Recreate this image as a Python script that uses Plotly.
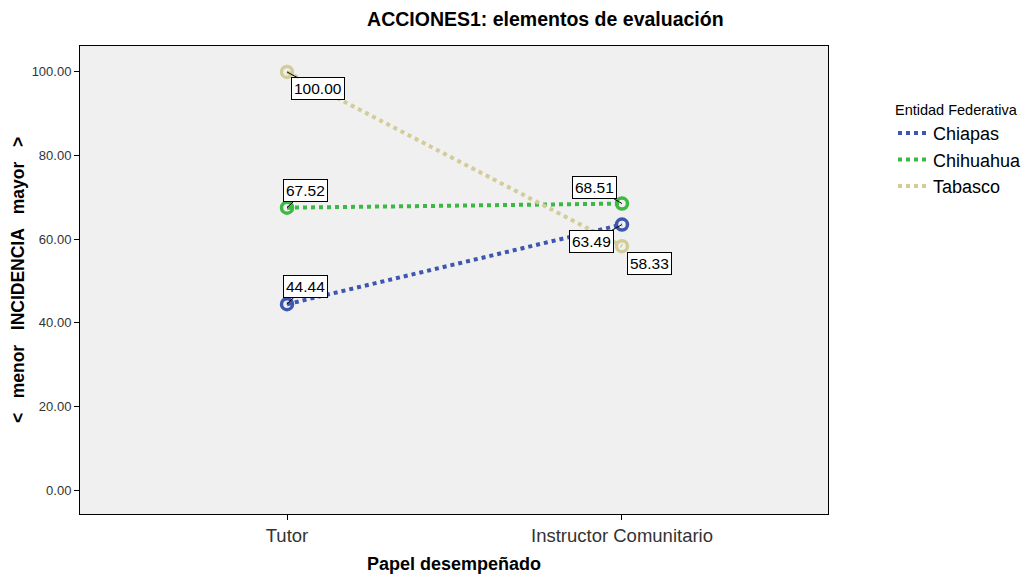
import plotly.graph_objects as go

# Data
categorias = ["Tutor", "Instructor Comunitario"]
chiapas = [44.44, 63.49]
chihuahua = [67.52, 68.51]
tabasco = [100.00, 58.33]
y_ticks = [0, 20, 40, 60, 80, 100]

series = [
    ("Chiapas", chiapas, "#3d56b0"),
    ("Chihuahua", chihuahua, "#3cb843"),
    ("Tabasco", tabasco, "#d2cd98"),
]

# label offsets (pixels) for each series / category
offsets = {
    "Chiapas": [(18, -18), (-30, 17)],
    "Chihuahua": [(18, -17), (-27, -16)],
    "Tabasco": [(31, 17), (28, 17)],
}

FONT = "Liberation Sans, Arial"

fig = go.Figure()
x_idx = list(range(len(categorias)))
for name, vals, color in series:
    fig.add_trace(go.Scatter(
        x=x_idx, y=vals, name=name, mode="lines+markers", showlegend=False,
        line=dict(color=color, width=4, dash="dot"),
        marker=dict(symbol="circle-open", size=11, color=color,
                    line=dict(width=3.5, color=color)),
    ))
    # line-only legend entry
    fig.add_trace(go.Scatter(
        x=[None], y=[None], name=name, mode="lines",
        line=dict(color=color, width=4, dash="dot"),
    ))
    for i, v in enumerate(vals):
        ax, ay = offsets[name][i]
        fig.add_annotation(
            x=x_idx[i], y=v, text=f"{v:.2f}", showarrow=True,
            ax=ax, ay=ay, arrowhead=0, arrowwidth=1, arrowcolor="black",
            bgcolor="white", bordercolor="black", borderwidth=1, borderpad=2,
            font=dict(family=FONT, size=15.5, color="black"),
        )

fig.update_layout(
    width=1027, height=575,
    margin=dict(l=80, r=199, t=46, b=61, autoexpand=False),
    paper_bgcolor="white", plot_bgcolor="#f0f0f0",
    font=dict(family=FONT, color="black"),
    title=dict(text="<b>ACCIONES1: elementos de evaluación</b>",
               x=0.531, xanchor="center", y=0.966, yanchor="middle",
               font=dict(size=19.5)),
    showlegend=True,
    legend=dict(
        title=dict(text="Entidad Federativa", font=dict(size=14.5)),
        xref="container", yref="container",
        x=0.8695, y=0.833, xanchor="left", yanchor="top",
        font=dict(size=18), bgcolor="rgba(0,0,0,0)",
        tracegroupgap=0, itemwidth=30,
    ),
    xaxis=dict(
        tickmode="array", tickvals=x_idx, ticktext=categorias,
        range=[-0.618, 1.615], showgrid=False, zeroline=False,
        ticks="outside", ticklen=5, tickcolor="black",
        tickfont=dict(size=18.5, color="#333333"),
        showline=True, linecolor="black", mirror=True, automargin=False,
        title=dict(text="<b>Papel desempeñado</b>", font=dict(size=18), standoff=12),
    ),
    yaxis=dict(
        range=[-5.74, 106.2], tickvals=y_ticks,
        ticktext=[f"{t:.2f}" for t in y_ticks],
        showgrid=False, zeroline=False,
        ticks="outside", ticklen=5, tickcolor="black",
        tickfont=dict(size=13, color="#333333"),
        showline=True, linecolor="black", mirror=True, automargin=False,
        title=dict(text="<b><   menor   INCIDENCIA   mayor   ></b>",
                   font=dict(size=17.5), standoff=2),
    ),
)

fig.write_html("out.html")
